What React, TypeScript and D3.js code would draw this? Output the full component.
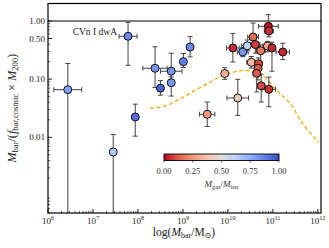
import React from "react";
import * as d3 from "d3";

const logM = [7.78, 6.44, 7.45, 7.94, 8.38, 8.5, 8.74, 8.74, 9.01, 9.16, 9.54, 9.93, 10.11, 10.22, 10.33, 10.43, 10.56, 10.61, 10.73, 10.88, 10.98, 10.9, 10.91, 11.22, 10.52, 10.68, 10.67, 10.64, 10.74, 10.91];
const ratio = [0.546, 0.066, 0.0056, 0.0224, 0.154, 0.07, 0.137, 0.087, 0.2, 0.357, 0.0249, 0.125, 0.344, 0.0475, 0.293, 0.375, 0.531, 0.395, 0.308, 0.372, 0.344, 0.811, 0.673, 0.293, 0.195, 0.184, 0.154, 0.126, 0.077, 0.067];
const fgas = [0.85, 0.78, 0.65, 0.92, 0.82, 0.95, 0.82, 0.82, 0.88, 0.85, 0.25, 0.32, 0.05, 0.42, 0.82, 0.6, 0.15, 0.08, 0.18, 0.3, 0.05, 0.02, 0.06, 0.05, 0.35, 0.1, 0.12, 0.12, 0.1, 0.06];
const xErr = [0.2, 0.31, 0.0, 0.04, 0.27, 0.04, 0.24, 0.04, 0.04, 0.04, 0.17, 0.04, 0.14, 0.24, 0.12, 0.13, 0.12, 0.1, 0.1, 0.1, 0.08, 0.22, 0.1, 0.15, 0.1, 0.08, 0.08, 0.08, 0.08, 0.15];
const yErrLo = [0.5, 3, 3, 0.33, 0.33, 0.12, 0.2, 0.23, 0.1, 0.17, 0.21, 0.1, 0.24, 0.3, 0.08, 0.08, 0.15, 0.15, 0.2, 0.1, 0.4, 0.1, 0.1, 0.13, 0.1, 0.2, 0.2, 0.32, 0.28, 0.3];
const yErrHi = [0.24, 0.45, 0.3, 0.22, 0.37, 0.13, 0.31, 0.1, 0.14, 0.18, 0.21, 0.1, 0.25, 0.32, 0.08, 0.1, 0.24, 0.12, 0.1, 0.08, 0.1, 0.2, 0.1, 0.15, 0.1, 0.1, 0.1, 0.1, 0.2, 0.21];

const curveLogM = [8.27, 8.58, 9.0, 9.31, 9.6, 9.84, 10.11, 10.36, 10.62, 10.84, 11.02, 11.22, 11.4, 11.64, 11.84, 12.02];
const curveRatio = [0.0316, 0.0342, 0.0489, 0.067, 0.0885, 0.112, 0.1315, 0.142, 0.1315, 0.1036, 0.0726, 0.0508, 0.037, 0.0182, 0.0117, 0.0082];

const xTickExps = [6, 7, 8, 9, 10, 11, 12];
const yTickVals = [1, 0.5, 0.1, 0.01];
const yTickLabels = ["1.00", "0.50", "0.10", "0.01"];
const cbTicks = [0, 0.25, 0.5, 0.75, 1];
const cbTickLabels = ["0.00", "0.25", "0.50", "0.75", "1.00"];

const coolwarmStops = ["#3b4cc0", "#6282ea", "#8db0fe", "#b8d0f9", "#dddddd", "#f5c4ac", "#f4987a", "#dd604d", "#b40426"];
const coolwarm = d3.scaleLinear<string>().domain(d3.range(9).map((i) => i / 8)).range(coolwarmStops).interpolate(d3.interpolateRgb);
const cmap = (f: number) => coolwarm(1 - f);

const W = 329, H = 248;
const L = 48, R = 321, T = 3.5, B = 213;
const FONT = "'Liberation Serif', 'DejaVu Serif', serif";

export default function App() {
  const x = d3.scaleLog().domain([1e6, Math.pow(10, 12.07)]).range([L, R]);
  const y = d3.scaleLog().domain([5e-4, 2]).range([B, T]);
  const clipY = (v: number) => Math.max(T, Math.min(B, v));

  const xMinor: number[] = [];
  for (let e = 6; e <= 12; e++) for (let k = 2; k <= 9; k++) { const v = k * Math.pow(10, e); if (v <= Math.pow(10, 12.07)) xMinor.push(v); }
  const yMinor: number[] = [];
  for (let e = -4; e <= 0; e++) for (let k = 2; k <= 9; k++) { const v = k * Math.pow(10, e); if (v >= 5e-4 && v <= 2) yMinor.push(v); }

  const line = d3.line<number>()
    .x((_, i) => x(Math.pow(10, curveLogM[i])))
    .y((_, i) => y(curveRatio[i]))
    .curve(d3.curveMonotoneX);

  const cbX = d3.scaleLinear().domain([0, 1]).range([164, 279]);
  const cbY0 = 154, cbY1 = 160.5;
  const order = d3.range(logM.length);

  return (
    <svg width={W} height={H} style={{ position: "absolute", left: 0, top: 0, background: "#fff" }} fontFamily={FONT}>
      <defs>
        <linearGradient id="cb" x1="0" x2="1" y1="0" y2="0">
          {d3.range(21).map((i) => (
            <stop key={i} offset={`${i * 5}%`} stopColor={cmap(i / 20)} />
          ))}
        </linearGradient>
        <clipPath id="plot"><rect x={L} y={T} width={R - L} height={B - T} /></clipPath>
      </defs>

      <line x1={L} x2={R} y1={y(1)} y2={y(1)} stroke="#000" strokeWidth={1.1} />

      <path d={line(curveLogM) || ""} fill="none" stroke="#ffa500" strokeWidth={1.3} strokeDasharray="4,2.5" clipPath="url(#plot)" />

      <g stroke="#444" strokeWidth={1} clipPath="url(#plot)">
        {order.map((i) => {
          const cx = x(Math.pow(10, logM[i]));
          const cy = y(ratio[i]);
          const xl = x(Math.pow(10, logM[i] - xErr[i]));
          const xr = x(Math.pow(10, logM[i] + xErr[i]));
          const yt = y(ratio[i] * Math.pow(10, yErrHi[i]));
          const ybRaw = y(ratio[i] / Math.pow(10, yErrLo[i]));
          const yb = clipY(ybRaw);
          return (
            <g key={i}>
              {xErr[i] > 0 && <line x1={xl} x2={xr} y1={cy} y2={cy} />}
              {xErr[i] > 0 && <line x1={xl} x2={xl} y1={cy - 2.5} y2={cy + 2.5} />}
              {xErr[i] > 0 && <line x1={xr} x2={xr} y1={cy - 2.5} y2={cy + 2.5} />}
              <line x1={cx} x2={cx} y1={yt} y2={yb + (ybRaw > B ? 2 : 0)} />
              <line x1={cx - 2.5} x2={cx + 2.5} y1={yt} y2={yt} />
              {ybRaw <= B && <line x1={cx - 2.5} x2={cx + 2.5} y1={yb} y2={yb} />}
            </g>
          );
        })}
      </g>

      <g stroke="#000" strokeWidth={0.9}>
        {order.map((i) => (
          <circle key={i} cx={x(Math.pow(10, logM[i]))} cy={y(ratio[i])} r={4} fill={cmap(fgas[i])} />
        ))}
      </g>

      <text x={117} y={34.5} fontSize={9.5} textAnchor="end" fill="#222">CVn I dwA</text>

      <rect x={cbX(0)} y={cbY0} width={cbX(1) - cbX(0)} height={cbY1 - cbY0} fill="url(#cb)" stroke="#000" strokeWidth={0.9} />
      {cbTicks.map((t, i) => (
        <g key={i}>
          <line x1={cbX(t)} x2={cbX(t)} y1={cbY1} y2={cbY1 + 2} stroke="#000" strokeWidth={0.6} />
          <text x={cbX(t)} y={174} fontSize={8.5} textAnchor="middle" fill="#333">{cbTickLabels[i]}</text>
        </g>
      ))}
      <text x={cbX(0.5)} y={187} fontSize={9} textAnchor="middle" fill="#333">
        <tspan fontStyle="italic">M</tspan><tspan fontSize={6.3} dy={1.5}>gas</tspan><tspan dy={-1.5}>/</tspan><tspan fontStyle="italic">M</tspan><tspan fontSize={6.3} dy={1.5}>bar</tspan>
      </text>

      <rect x={L} y={T} width={R - L} height={B - T} fill="none" stroke="#000" strokeWidth={1.2} />

      <g stroke="#000">
        {xTickExps.map((e) => (
          <line key={e} x1={x(Math.pow(10, e))} x2={x(Math.pow(10, e))} y1={B} y2={B - 4} strokeWidth={0.9} />
        ))}
        {xMinor.map((v, i) => (
          <line key={"m" + i} x1={x(v)} x2={x(v)} y1={B} y2={B - 2.2} strokeWidth={0.6} />
        ))}
        {yTickVals.map((v, i) => (
          <line key={"y" + i} x1={L} x2={L + 4} y1={y(v)} y2={y(v)} strokeWidth={0.9} />
        ))}
        {yMinor.map((v, i) => (
          <line key={"ym" + i} x1={L} x2={L + 2.2} y1={y(v)} y2={y(v)} strokeWidth={0.6} />
        ))}
      </g>
      {xTickExps.map((e) => (
        <text key={e} x={x(Math.pow(10, e))} y={224} fontSize={9} textAnchor="middle" fill="#222">
          10<tspan fontSize={6.2} dy={-4}>{e}</tspan>
        </text>
      ))}
      {yTickVals.map((v, i) => (
        <text key={i} x={45} y={y(v) + 3} fontSize={9} textAnchor="end" fill="#222">{yTickLabels[i]}</text>
      ))}

      <text x={184} y={236} fontSize={11.5} textAnchor="middle" fill="#222">
        log(<tspan fontStyle="italic">M</tspan><tspan fontSize={8} dy={2}>bar</tspan><tspan dy={-2}>/M</tspan><tspan fontSize={8} dy={2}>⊙</tspan><tspan dy={-2}>)</tspan>
      </text>

      <text transform={`translate(16,${(T + B) / 2}) rotate(-90)`} fontSize={12.3} textAnchor="middle" fill="#222">
        <tspan fontStyle="italic">M</tspan><tspan fontSize={8.5} dy={2}>bar</tspan><tspan dy={-2}>/(</tspan><tspan fontStyle="italic">f</tspan><tspan fontSize={8.5} dy={2}>bar,cosmic</tspan><tspan dy={-2}> × </tspan><tspan fontStyle="italic">M</tspan><tspan fontSize={8.5} dy={2}>200</tspan><tspan dy={-2}>)</tspan>
      </text>
    </svg>
  );
}
